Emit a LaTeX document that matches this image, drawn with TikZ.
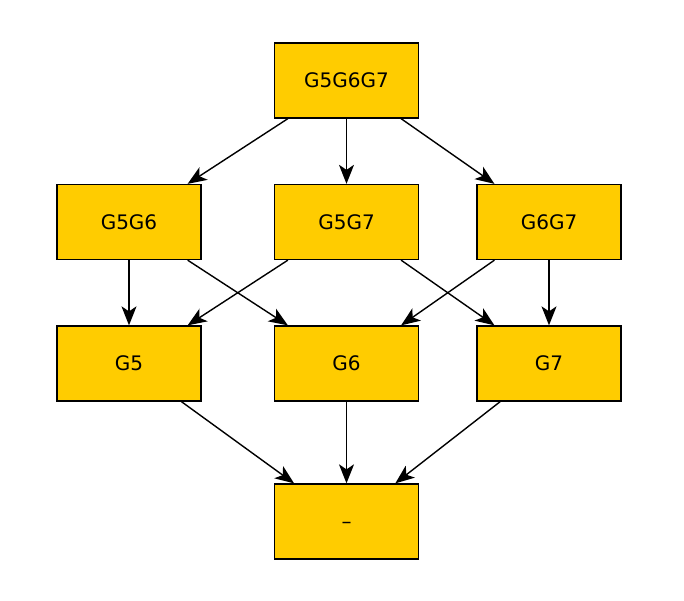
\documentclass[tikz,border=0pt]{standalone}
\usepackage{fontspec}
\setmainfont{DejaVu Sans}
\usetikzlibrary{arrows.meta}
\definecolor{boxfill}{RGB}{255,204,0}
\begin{document}
\begin{tikzpicture}[x=1pt,y=-1pt,
  box/.style={draw=black,fill=boxfill,line width=1.3pt,minimum width=144pt,minimum height=75pt,inner sep=0pt,font=\fontsize{20}{24}\selectfont},
  edge/.style={line width=1.4pt,-{Stealth[length=19pt,width=15pt,inset=5pt]}}]
\useasboundingbox (0,0) rectangle (684,600);
\node[box] (g567) at (346.5,80.5) {G5G6G7};
\node[box] (g56) at (129,222) {G5G6};
\node[box] (g57) at (346.5,222) {G5G7};
\node[box] (g67) at (549,222) {G6G7};
\node[box] (g5) at (129,363.5) {G5};
\node[box] (g6) at (346.5,363.5) {G6};
\node[box] (g7) at (549,363.5) {G7};
\node[box] (e) at (346.5,521.5) {\smash{\raisebox{-7pt}{–}}};
\draw[edge] (g567) -- (g56);
\draw[edge] (g567) -- (g57);
\draw[edge] (g567) -- (g67);
\draw[edge] (g56) -- (g5);
\draw[edge] (g56) -- (g6);
\draw[edge] (g57) -- (g5);
\draw[edge] (g57) -- (g7);
\draw[edge] (g67) -- (g6);
\draw[edge] (g67) -- (g7);
\draw[edge] (g5) -- (e);
\draw[edge] (g6) -- (e);
\draw[edge] (g7) -- (e);
\end{tikzpicture}
\end{document}
